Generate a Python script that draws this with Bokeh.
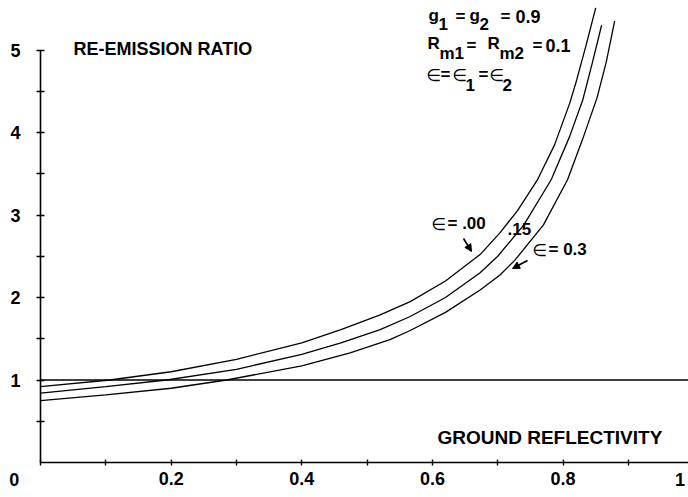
from bokeh.plotting import figure
from bokeh.models import (LinearAxis, FixedTicker, Arrow, NormalHead, Range1d)
from bokeh.core.properties import value
from bokeh.embed import file_html
from bokeh.resources import INLINE

# ---------------- data ----------------
reflectivity_e000 = [0.0, 0.106, 0.2, 0.3, 0.4, 0.46, 0.52, 0.566, 0.62, 0.673, 0.703, 0.73, 0.761, 0.787, 0.81, 0.821, 0.835, 0.85]
ratio_e000 = [0.92, 1.0, 1.10, 1.25, 1.45, 1.61, 1.79, 1.95, 2.20, 2.52, 2.78, 3.05, 3.43, 3.85, 4.35, 4.64, 5.05, 5.51]

reflectivity_e015 = [0.0, 0.1, 0.193, 0.3, 0.4, 0.46, 0.52, 0.566, 0.62, 0.673, 0.70, 0.74, 0.782, 0.81, 0.83, 0.845, 0.859]
ratio_e015 = [0.84, 0.92, 1.0, 1.13, 1.31, 1.45, 1.61, 1.77, 2.0, 2.30, 2.50, 2.88, 3.43, 3.95, 4.39, 4.85, 5.30]

reflectivity_e030 = [0.0, 0.1, 0.2, 0.285, 0.4, 0.474, 0.535, 0.566, 0.62, 0.673, 0.703, 0.726, 0.77, 0.807, 0.83, 0.852, 0.866, 0.879]
ratio_e030 = [0.75, 0.82, 0.90, 1.0, 1.17, 1.33, 1.49, 1.60, 1.82, 2.09, 2.27, 2.45, 2.88, 3.43, 3.92, 4.42, 4.85, 5.35]

reference_ratio = 1.0
reflectivity_extent = [0.0, 1.0]

x_major_ticks = [0.2, 0.4, 0.6, 0.8]
x_minor_ticks = [0.0, 0.1, 0.3, 0.5, 0.7, 0.9]
y_major_ticks = [1, 2, 3, 4, 5]
y_minor_ticks = [0.5, 1.5, 2.5, 3.5, 4.5]
corner_labels = ["0", "1"]
corner_label_x = [-0.040, 0.979]

FONT = "Liberation Sans"

# ---------------- figure ----------------
X0, XS = 40.0, 653.2   # px of x=0, px per unit
Y0, YS = 462.0, 82.5   # px of y=0, px per unit

def X(px):
    return (px - X0) / XS

def Y(py):
    return (Y0 - py) / YS

p = figure(width=688, height=497, output_backend="svg", toolbar_location=None,
           x_axis_location=None, y_axis_location=None,
           x_range=Range1d(X(0), X(688)), y_range=Range1d(Y(497), Y(0)),
           min_border_left=0, min_border_right=0, min_border_top=0, min_border_bottom=0)
p.outline_line_color = None
p.xgrid.visible = False
p.ygrid.visible = False
p.background_fill_color = "white"
p.border_fill_color = "white"

def style_axis(ax):
    ax.axis_line_width = 1.6
    ax.axis_line_color = "black"
    ax.major_tick_line_color = "black"
    ax.minor_tick_line_color = "black"
    ax.major_tick_line_width = 1.4
    ax.minor_tick_line_width = 1.4
    ax.major_label_text_font = FONT
    ax.major_label_text_font_style = "bold"
    ax.major_label_text_font_size = "18px"
    ax.major_label_text_color = "black"

xaxis = LinearAxis(ticker=FixedTicker(ticks=x_major_ticks, minor_ticks=x_minor_ticks),
                   bounds=(0, 1), fixed_location=0)
style_axis(xaxis)
xaxis.major_tick_in = 3
xaxis.major_tick_out = 3
xaxis.minor_tick_in = 3
xaxis.minor_tick_out = 3
xaxis.major_label_standoff = 6
p.add_layout(xaxis, "below")

yaxis = LinearAxis(ticker=FixedTicker(ticks=y_major_ticks, minor_ticks=y_minor_ticks),
                   bounds=(0, 5), fixed_location=0)
style_axis(yaxis)
yaxis.major_tick_in = 4
yaxis.major_tick_out = 4
yaxis.minor_tick_in = 4
yaxis.minor_tick_out = 4
yaxis.major_label_standoff = 16
p.add_layout(yaxis, "left")

# corner labels "0" and "1" under the axis
p.text(x=corner_label_x, y=[Y(479)] * 2, text=corner_labels, text_font=value(FONT),
       text_font_style="bold", text_font_size="18px", text_align="center",
       text_baseline="middle", text_color="black")

# reference line at ratio 1
p.line(reflectivity_extent, [reference_ratio] * 2, line_color="black", line_width=1.3)

# curves
for xs, ys in [(reflectivity_e000, ratio_e000), (reflectivity_e015, ratio_e015), (reflectivity_e030, ratio_e030)]:
    p.line(xs, ys, line_color="black", line_width=1.3)

# ---------------- annotations ----------------
def txt(s, px, py, size="17px", font=FONT, style="bold"):
    p.text(x=[X(px)], y=[Y(py)], text=[s], text_font=value(font), text_font_style=style,
           text_font_size=size, text_align="left", text_baseline="middle", text_color="black")

txt("RE-EMISSION RATIO", 73, 48, "18px")
txt("GROUND REFLECTIVITY", 437, 437, "19px")

# parameter block with subscripts
txt("g", 428, 15); txt("1", 438, 23); txt("=", 455, 16)
txt("g", 469, 15); txt("2", 479, 23); txt("=", 500, 16); txt("0.9", 515, 16, "18px")

txt("R", 427, 43); txt("m1", 439, 53); txt("=", 466, 45)
txt("R", 487, 43); txt("m2", 499, 53); txt("=", 532, 45); txt("0.1", 545, 45, "18px")

EPS = dict(size="17px", font="DejaVu Sans", style="normal")
txt("\u2208", 426, 74, **EPS); txt("=", 440, 74); txt("\u2208", 452, 74, **EPS); txt("1", 465, 84)
txt("=", 478, 74); txt("\u2208", 489, 74, **EPS); txt("2", 502, 84)

# curve labels
txt("\u2208", 431, 223, **EPS); txt("= .00", 447, 223)
txt(".15", 507, 228)
txt("\u2208", 532, 249, **EPS); txt("= 0.3", 548, 249)

p.add_layout(Arrow(end=NormalHead(size=7, fill_color="black", line_color="black"),
                   x_start=X(463), y_start=Y(238), x_end=X(471), y_end=Y(251),
                   line_color="black", line_width=1.6))
p.add_layout(Arrow(end=NormalHead(size=7, fill_color="black", line_color="black"),
                   x_start=X(527), y_start=Y(260), x_end=X(512), y_end=Y(268),
                   line_color="black", line_width=1.6))

open("out.html", "w").write(file_html(p, INLINE))
